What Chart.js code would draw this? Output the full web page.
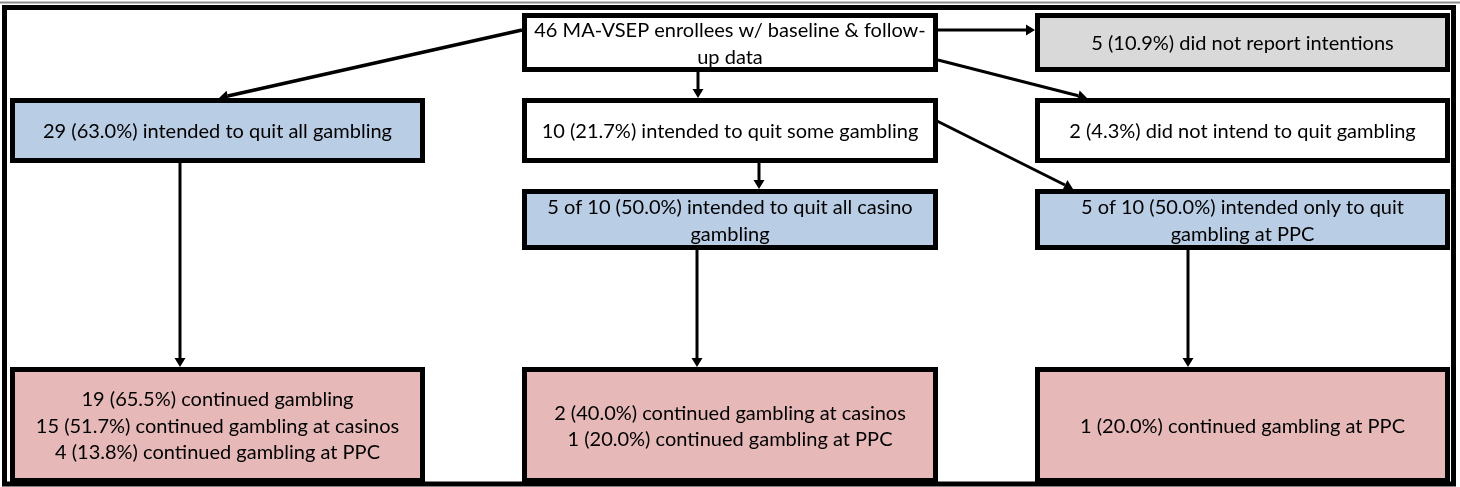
<!DOCTYPE html>
<html>
<head>
<meta charset="utf-8">
<script src="https://cdn.jsdelivr.net/npm/chart.js@4"></script>
<style>
  html, body { margin: 0; padding: 0; background: #fff; }
  #wrap { width: 1460px; height: 487px; }
</style>
</head>
<body>
<div id="wrap"><canvas id="chart" width="1460" height="487"></canvas></div>
<script>
// ======== Dados do fluxograma ========
const nodeIds = ['enrolled', 'noReport', 'quitAll', 'quitSome', 'noQuit',
  'quitCasino', 'quitPPC', 'contAll', 'contSome', 'contPPC'];
const nodeLines = [
  ['46 MA-VSEP enrollees w/ baseline & follow-', 'up data'],
  ['5 (10.9%) did not report intentions'],
  ['29 (63.0%) intended to quit all gambling'],
  ['10 (21.7%) intended to quit some gambling'],
  ['2 (4.3%) did not intend to quit gambling'],
  ['5 of 10 (50.0%) intended to quit all casino', 'gambling'],
  ['5 of 10 (50.0%) intended only to quit', 'gambling at PPC'],
  ['19 (65.5%) continued gambling', '15 (51.7%) continued gambling at casinos', '4 (13.8%) continued gambling at PPC'],
  ['2 (40.0%) continued gambling at casinos', '1 (20.0%) continued gambling at PPC'],
  ['1 (20.0%) continued gambling at PPC'],
];
const nodeKind = ['plain', 'missing', 'intent', 'plain', 'plain',
  'intent', 'intent', 'outcome', 'outcome', 'outcome'];
// links: [from, to]
const links = [
  ['enrolled', 'quitAll'],
  ['enrolled', 'quitSome'],
  ['enrolled', 'noReport'],
  ['enrolled', 'noQuit'],
  ['quitAll', 'contAll'],
  ['quitSome', 'quitCasino'],
  ['quitSome', 'quitPPC'],
  ['quitCasino', 'contSome'],
  ['quitPPC', 'contPPC'],
];

// ======== Layout (posições) ========
const colLeft = [10, 522, 1035];
const colRight = [425, 938, 1450];
const rowTop = [13, 98, 189, 367];
const rowBottom = [72, 163, 250, 483];
const nodeCell = {
  enrolled: [1, 0], noReport: [2, 0],
  quitAll: [0, 1], quitSome: [1, 1], noQuit: [2, 1],
  quitCasino: [1, 2], quitPPC: [2, 2],
  contAll: [0, 3], contSome: [1, 3], contPPC: [2, 3],
};
// ponto inicial / final de cada seta
const linkPath = [
  [[522, 30], [219, 98]],
  [[698, 72], [698, 98]],
  [[938, 30], [1035, 30]],
  [[938, 60], [1087, 98]],
  [[180, 163], [180, 367]],
  [[759, 163], [759, 189]],
  [[935, 120], [1073, 189]],
  [[697, 250], [697, 367]],
  [[1188, 250], [1188, 367]],
];
const fills = { plain: '#ffffff', missing: '#d9d9d9', intent: '#b9cde5', outcome: '#e6b9b8' };

// ======== Plugin que desenha caixas e setas ========
const flowPlugin = {
  id: 'flow',
  afterDraw(chart) {
    const ctx = chart.ctx;
    const sx = chart.scales.x, sy = chart.scales.y;
    const px = v => sx.getPixelForValue(v);
    const py = v => sy.getPixelForValue(v);

    ctx.save();
    // linha cinza no topo + moldura externa
    ctx.strokeStyle = '#8a8a8a';
    ctx.lineWidth = 2;
    ctx.beginPath();
    ctx.moveTo(px(0), py(2.5));
    ctx.lineTo(px(1460), py(2.5));
    ctx.stroke();
    ctx.strokeStyle = '#000';
    ctx.lineWidth = 5;
    ctx.strokeRect(px(4.5), py(7.5), px(1453.5) - px(4.5), py(484) - py(7.5));

    nodeIds.forEach((id, i) => {
      const [c, r] = nodeCell[id];
      const x0 = px(colLeft[c]), x1 = px(colRight[c]);
      const y0 = py(rowTop[r]), y1 = py(rowBottom[r]);
      ctx.fillStyle = fills[nodeKind[i]];
      ctx.fillRect(x0, y0, x1 - x0, y1 - y0);
      ctx.lineWidth = 5;
      ctx.strokeStyle = '#000';
      ctx.strokeRect(x0 + 2.5, y0 + 2.5, x1 - x0 - 5, y1 - y0 - 5);

      const lines = nodeLines[i];
      const lh = 26.5;
      ctx.fillStyle = '#000';
      ctx.font = '20px Lato, "Open Sans", sans-serif';
      ctx.textAlign = 'center';
      ctx.textBaseline = 'middle';
      const cx = (x0 + x1) / 2;
      const cy = (y0 + y1) / 2 + 1.5;
      lines.forEach((t, k) => {
        ctx.fillText(t, cx, cy + (k - (lines.length - 1) / 2) * lh);
      });
    });

    links.forEach((l, i) => {
      const [[ax, ay], [bx, by]] = linkPath[i];
      const x0 = px(ax), y0 = py(ay), x1 = px(bx), y1 = py(by);
      const ang = Math.atan2(y1 - y0, x1 - x0);
      const head = 9, half = 5.5;
      ctx.strokeStyle = '#000';
      ctx.lineWidth = i === 0 ? 3.5 : 3;
      ctx.beginPath();
      ctx.moveTo(x0, y0);
      ctx.lineTo(x1 - Math.cos(ang) * head, y1 - Math.sin(ang) * head);
      ctx.stroke();
      ctx.fillStyle = '#000';
      ctx.beginPath();
      ctx.moveTo(x1, y1);
      ctx.lineTo(x1 - Math.cos(ang) * head - Math.sin(ang) * half, y1 - Math.sin(ang) * head + Math.cos(ang) * half);
      ctx.lineTo(x1 - Math.cos(ang) * head + Math.sin(ang) * half, y1 - Math.sin(ang) * head - Math.cos(ang) * half);
      ctx.closePath();
      ctx.fill();
    });
    ctx.restore();
  }
};

const chart = new Chart(document.getElementById('chart').getContext('2d'), {
  type: 'scatter',
  data: { datasets: [{ data: [], pointRadius: 0 }] },
  options: {
    responsive: false,
    animation: false,
    events: [],
    layout: { padding: 0 },
    plugins: { legend: { display: false }, tooltip: { enabled: false } },
    scales: {
      x: { type: 'linear', min: 0, max: 1460, display: false },
      y: { type: 'linear', min: 0, max: 487, reverse: true, display: false },
    },
  },
  plugins: [flowPlugin],
});
</script>
</body>
</html>
